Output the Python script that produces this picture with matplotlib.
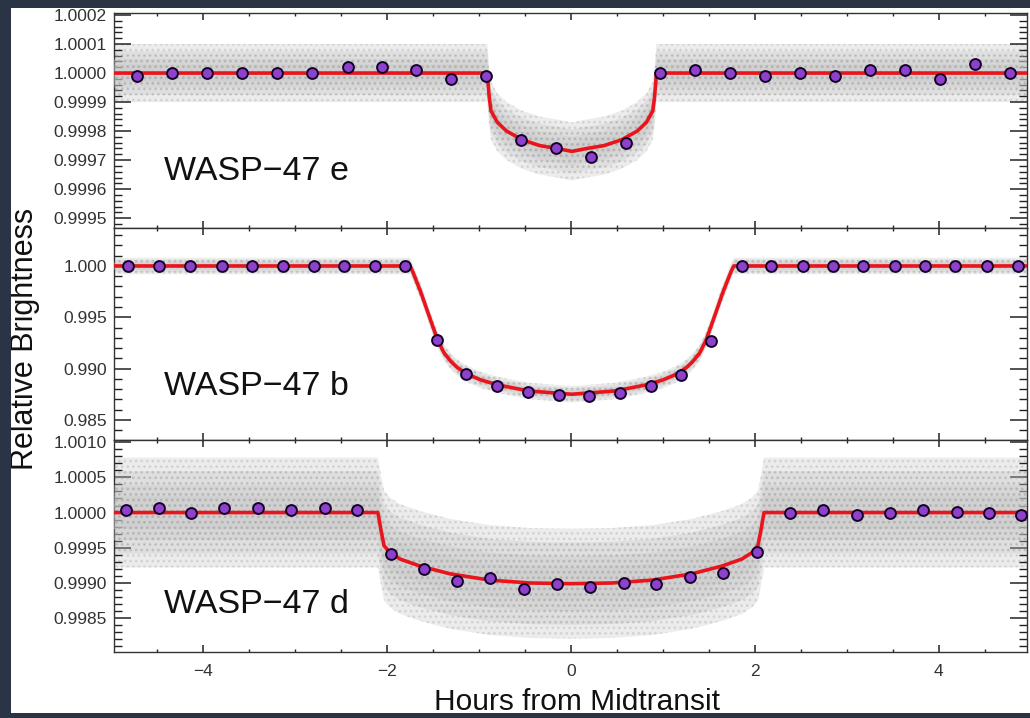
import matplotlib
matplotlib.use("Agg")
import matplotlib.pyplot as plt
from matplotlib.ticker import MultipleLocator, FormatStrFormatter
from matplotlib.patches import Rectangle
import numpy as np

plt.rcParams['font.family'] = ['Liberation Sans', 'DejaVu Sans']
plt.rcParams['hatch.linewidth'] = 1.2

planets = ['WASP−47 e', 'WASP−47 b', 'WASP−47 d']

# ---- WASP-47 e ----
e_bin_x = [-4.72, -4.34, -3.96, -3.58, -3.20, -2.82, -2.43, -2.05, -1.68, -1.30, -0.92,
           -0.54, -0.16, 0.22, 0.60, 0.97, 1.35, 1.73, 2.11, 2.49, 2.87, 3.25, 3.63,
           4.01, 4.39, 4.77]
e_bin_y = [0.99999, 1.00000, 1.00000, 1.00000, 1.00000, 1.00000, 1.00002, 1.00002,
           1.00001, 0.99998, 0.99999, 0.99977, 0.99974, 0.99971, 0.99976, 1.00000,
           1.00001, 1.00000, 0.99999, 1.00000, 0.99999, 1.00001, 1.00001, 0.99998,
           1.00003, 1.00000]
e_model_x = [-4.97, -0.91, -0.89, -0.87, -0.80, -0.70, -0.53, -0.34, -0.15, 0.01,
             0.17, 0.36, 0.55, 0.72, 0.82, 0.89, 0.91, 0.93, 4.97]
e_model_y = [1.0, 1.0, 0.99992, 0.99987, 0.99983, 0.99980, 0.99977, 0.99975, 0.99974,
             0.99973, 0.99974, 0.99975, 0.99977, 0.99980, 0.99983, 0.99987, 0.99992,
             1.0, 1.0]
e_spread = 0.0001

# ---- WASP-47 b ----
b_bin_x = [-4.82, -4.48, -4.14, -3.80, -3.47, -3.13, -2.80, -2.47, -2.13, -1.80, -1.46,
           -1.14, -0.80, -0.47, -0.13, 0.20, 0.53, 0.87, 1.20, 1.52, 1.86, 2.18, 2.52,
           2.85, 3.18, 3.52, 3.85, 4.18, 4.52, 4.86]
b_bin_y = [1.0, 1.0, 1.0, 1.0, 1.0, 1.0, 1.0, 1.0, 1.0, 1.0, 0.99279, 0.98947, 0.98830,
           0.98772, 0.98743, 0.98733, 0.98762, 0.98830, 0.98937, 0.99269, 1.0, 1.0, 1.0,
           1.0, 1.0, 1.0, 1.0, 1.0, 1.0, 1.0]
b_model_x = [-4.97, -1.75, -1.72, -1.63, -1.52, -1.45, -1.38, -1.30, -1.23, -1.13, -0.98,
             -0.79, -0.46, 0.01, 0.48, 0.81, 1.00, 1.15, 1.25, 1.32, 1.40, 1.47, 1.54,
             1.65, 1.74, 1.77, 4.97]
b_model_y = [1.0, 1.0, 0.99942, 0.99737, 0.99454, 0.99279, 0.99152, 0.99064, 0.99006,
             0.98947, 0.98889, 0.98840, 0.98782, 0.98750, 0.98782, 0.98840, 0.98889,
             0.98947, 0.99006, 0.99064, 0.99152, 0.99279, 0.99454, 0.99737, 0.99942,
             1.0, 1.0]
b_spread = 0.0008

# ---- WASP-47 d ----
d_bin_x = [-4.84, -4.48, -4.13, -3.77, -3.40, -3.04, -2.68, -2.33, -1.96, -1.60, -1.24,
           -0.88, -0.51, -0.15, 0.21, 0.58, 0.93, 1.29, 1.65, 2.02, 2.38, 2.74, 3.11,
           3.47, 3.83, 4.20, 4.55, 4.90]
d_bin_y = [1.00003, 1.00007, 1.00000, 1.00007, 1.00007, 1.00004, 1.00007, 1.00003,
           0.99941, 0.99920, 0.99903, 0.99907, 0.99891, 0.99899, 0.99894, 0.99900,
           0.99898, 0.99908, 0.99914, 0.99944, 1.00000, 1.00004, 0.99997, 0.99999,
           1.00004, 1.00001, 0.99999, 0.99997]
d_model_x = [-4.97, -2.10, -2.065, -2.033, -1.967, -1.859, -1.641, -1.315, -0.880,
             -0.446, 0.0, 0.446, 0.880, 1.315, 1.641, 1.859, 1.967, 2.033, 2.065, 2.10,
             4.97]
d_model_y = [1.0, 1.0, 0.99974, 0.99953, 0.99943, 0.99934, 0.99924, 0.99913, 0.99904,
             0.99900, 0.99899, 0.99900, 0.99904, 0.99913, 0.99924, 0.99934, 0.99943,
             0.99953, 0.99974, 1.0, 1.0]
d_spread = 0.00078

panels = [
    dict(bx=e_bin_x, by=e_bin_y, mx=e_model_x, my=e_model_y, sp=e_spread,
         ylim=(0.999466, 1.000207), major=0.0001, minor=0.00002, fmt='%.4f',
         lab_y=0.225),
    dict(bx=b_bin_x, by=b_bin_y, mx=b_model_x, my=b_model_y, sp=b_spread,
         ylim=(0.98304, 1.0037), major=0.005, minor=0.001, fmt='%.3f',
         lab_y=0.21),
    dict(bx=d_bin_x, by=d_bin_y, mx=d_model_x, my=d_model_y, sp=d_spread,
         ylim=(0.99802, 1.00103), major=0.0005, minor=0.0001, fmt='%.4f',
         lab_y=0.185),
]

# relative widths of the stacked translucent layers that stand in for the point cloud
layer_frac = [1.0, 0.75, 0.5, 0.3]

W, H = 1030, 718
fig = plt.figure(figsize=(W / 100, H / 100), dpi=100, facecolor='white')

left = 114 / W
width = (1027 - 114) / W
tops = [13, 228, 440]
bots = [228, 440, 652]

for i, p in enumerate(panels):
    ax = fig.add_axes([left, 1 - bots[i] / H, width, (bots[i] - tops[i]) / H])
    mx = np.array(p['mx'])
    my = np.array(p['my'])
    for k, f in enumerate(layer_frac):
        s = p['sp'] * f
        ax.fill_between(mx, my - s, my + s, facecolor='#c6c6c6', alpha=0.32,
                        edgecolor='#a8a8a8', hatch='...', linewidth=0, zorder=1 + k)
    ax.plot(mx, my, color='#e8161c', lw=2.6, zorder=6, solid_joinstyle='round')
    ax.plot(p['bx'], p['by'], 'o', ms=7.8, mfc='#8e42cc', mec='#15002a', mew=1.4,
            zorder=7)
    ax.set_xlim(-4.97, 4.96)
    ax.set_ylim(*p['ylim'])
    ax.xaxis.set_major_locator(MultipleLocator(2))
    ax.xaxis.set_minor_locator(MultipleLocator(0.5))
    ax.yaxis.set_major_locator(MultipleLocator(p['major']))
    ax.yaxis.set_minor_locator(MultipleLocator(p['minor']))
    ax.yaxis.set_major_formatter(FormatStrFormatter(p['fmt']))
    ax.tick_params(which='both', direction='in', top=True, right=True,
                   colors='#222222', labelcolor='#333333', labelsize=12.5)
    ax.tick_params(axis='y', which='major', length=12, width=1.1, pad=5)
    ax.tick_params(axis='y', which='minor', length=6, width=1.0)
    ax.tick_params(axis='x', which='major', length=5, width=1.1, pad=9)
    ax.tick_params(axis='x', which='minor', length=2.5, width=1.0)
    if i < 2:
        ax.tick_params(axis='x', labelbottom=False)
    for sp in ax.spines.values():
        sp.set_color('#333333')
        sp.set_linewidth(1.0)
    ax.text(0.055, p['lab_y'], planets[i], transform=ax.transAxes, fontsize=24.5,
            color='#111111', ha='left', va='baseline', zorder=8)

fig.text(25 / W, 1 - 339 / H, 'Relative Brightness', rotation=90, ha='center',
         va='center', fontsize=22, color='#111111')
fig.text(577 / W, 1 - 710 / H, 'Hours from Midtransit', ha='center', va='baseline',
         fontsize=21.5, color='#111111')

frame = '#2b3444'
fig.add_artist(Rectangle((0, 0), 11 / W, 1, transform=fig.transFigure,
                         facecolor=frame, edgecolor='none', zorder=20))
fig.add_artist(Rectangle((0, 1 - 8 / H), 1, 8 / H, transform=fig.transFigure,
                         facecolor=frame, edgecolor='none', zorder=20))
fig.add_artist(Rectangle((0, 0), 1, 5 / H, transform=fig.transFigure,
                         facecolor=frame, edgecolor='none', zorder=20))

fig.savefig('out.png', dpi=100, facecolor=fig.get_facecolor())
